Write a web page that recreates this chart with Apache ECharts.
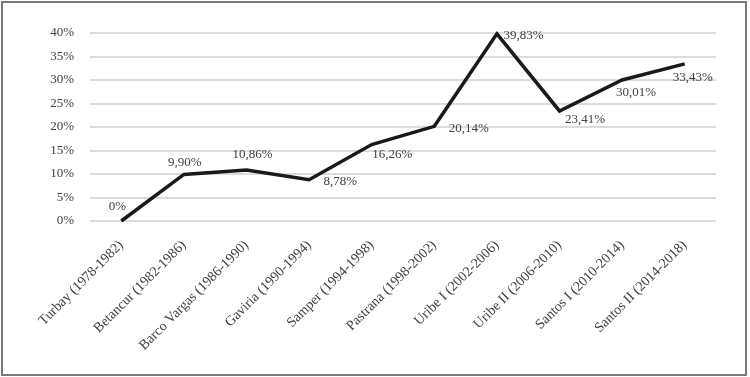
<!DOCTYPE html>
<html>
<head>
<meta charset="utf-8">
<script src="https://cdn.jsdelivr.net/npm/echarts@6/dist/echarts.min.js"></script>
<style>
  * { margin: 0; padding: 0; }
  body { background: #fff; }
  #wrap { position: relative; width: 750px; height: 377px; }
  #chart-container { position: absolute; left: 0; top: 0; width: 750px; height: 377px; }
  #frame {
    position: absolute; left: 1px; top: 1px; width: 742px; height: 371px;
    border: 2px solid #7a7a7a; pointer-events: none;
  }
</style>
</head>
<body>
<div id="wrap">
  <div id="chart-container"></div>
  <div id="frame"></div>
</div>
<script>
  var categories = [
    'Turbay (1978-1982)',
    'Betancur (1982-1986)',
    'Barco Vargas (1986-1990)',
    'Gaviria (1990-1994)',
    'Samper (1994-1998)',
    'Pastrana (1998-2002)',
    'Uribe I (2002-2006)',
    'Uribe II (2006-2010)',
    'Santos I (2010-2014)',
    'Santos II (2014-2018)'
  ]
  var values = [0, 9.90, 10.86, 8.78, 16.26, 20.14, 39.83, 23.41, 30.01, 33.43]

  // where each value label sits relative to its point
  var labelPlacement = [
    ['top', [-4, -2]],
    ['top', [1, 0]],
    ['top', [6, -3]],
    ['right', [9, 2]],
    ['right', [-5, 10]],
    ['right', [9, 2]],
    ['right', [1, 2]],
    ['right', [0, 9]],
    ['bottom', [14, 1]],
    ['bottom', [8, 2]]
  ]

  var serif = '"Liberation Serif", "DejaVu Serif", serif'
  var textColor = '#404040'

  function fmt(v) {
    if (v === 0) return '0%'
    return v.toFixed(2).replace('.', ',') + '%'
  }

  var chartDom = document.getElementById('chart-container')
  var myChart = echarts.init(chartDom, null, { renderer: 'canvas' })

  var seriesData = values.map(function (v, i) {
    return {
      value: v,
      label: {
        position: labelPlacement[i][0],
        offset: labelPlacement[i][1]
      }
    }
  })

  var option = {
    animation: false,
    grid: { left: 90, right: 34, top: 33, bottom: 156 },
    xAxis: {
      type: 'category',
      data: categories,
      boundaryGap: true,
      axisLine: { show: false },
      axisTick: { show: false },
      axisLabel: {
        rotate: 45,
        interval: 0,
        margin: 22,
        fontFamily: serif,
        fontSize: 14,
        color: textColor
      }
    },
    yAxis: {
      type: 'value',
      min: 0,
      max: 40,
      interval: 5,
      axisLine: { show: false },
      axisTick: { show: false },
      axisLabel: {
        formatter: '{value}%',
        margin: 16,
        fontFamily: serif,
        fontSize: 13,
        color: textColor
      },
      splitLine: { lineStyle: { color: '#d0d0d0', width: 1.5 } }
    },
    series: [
      {
        type: 'line',
        data: seriesData,
        symbol: 'circle',
        symbolSize: 1,
        itemStyle: { color: 'transparent' },
        lineStyle: { color: '#1a1a1a', width: 3.5, join: 'miter' },
        label: {
          show: true,
          distance: 5,
          fontFamily: serif,
          fontSize: 13,
          color: textColor,
          formatter: function (p) { return fmt(p.value) }
        }
      }
    ]
  }
  myChart.setOption(option)
  window.addEventListener('resize', myChart.resize)
</script>
</body>
</html>
